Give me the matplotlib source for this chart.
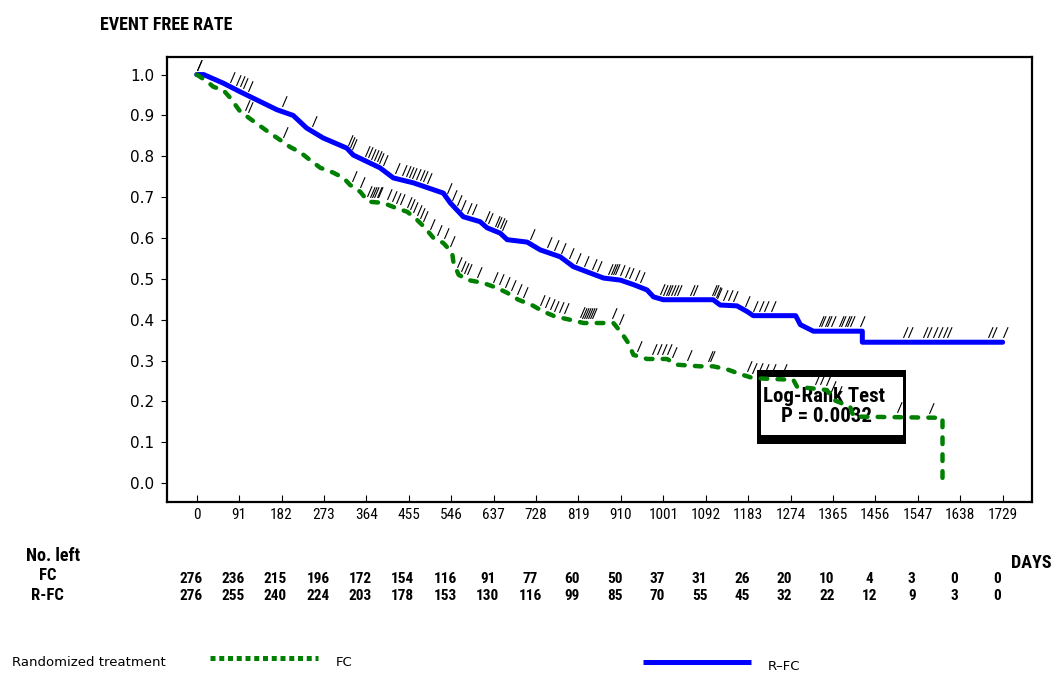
import numpy as np
import matplotlib
matplotlib.use("Agg")
import matplotlib.pyplot as plt
from matplotlib.lines import Line2D
from matplotlib.patches import Rectangle
import matplotlib.transforms as mtransforms

# ---------------------------------------------------------------- data
# Kaplan-Meier curves as traced vertices: time in days, event-free rate
fc_times = [0, 20, 36, 57, 72, 93, 118, 157, 179, 200, 222, 243, 265, 293,
            315, 329, 351, 368, 400, 422, 452, 473, 490, 508, 529, 548, 551,
            562, 583, 615, 644, 666, 690, 719, 744, 769, 801, 830, 894, 912,
            926, 937, 966, 1009, 1030, 1080, 1108, 1137, 1166, 1194, 1280,
            1288, 1352, 1366, 1402, 1409, 1600, 1600]
fc_surv = [1.0, 0.985, 0.97, 0.962, 0.943, 0.91, 0.889, 0.857, 0.84, 0.823,
           0.81, 0.791, 0.772, 0.76, 0.747, 0.73, 0.713, 0.689, 0.686, 0.676,
           0.664, 0.644, 0.625, 0.6, 0.588, 0.564, 0.539, 0.51, 0.497, 0.49,
           0.478, 0.466, 0.449, 0.436, 0.42, 0.408, 0.4, 0.392, 0.392, 0.367,
           0.343, 0.314, 0.304, 0.304, 0.29, 0.286, 0.286, 0.279, 0.267,
           0.257, 0.253, 0.236, 0.228, 0.204, 0.187, 0.163, 0.16, 0.0]

rfc_times = [0, 15, 57, 93, 172, 207, 236, 271, 322, 336, 393, 422, 465, 529,
             544, 572, 608, 623, 651, 666, 709, 737, 780, 808, 838, 873, 909,
             937, 966, 980, 1001, 1108, 1123, 1159, 1181, 1194, 1285, 1295,
             1323, 1428, 1428, 1729]
rfc_surv = [1.0, 1.0, 0.979, 0.958, 0.914, 0.9, 0.869, 0.845, 0.82, 0.803,
            0.772, 0.747, 0.735, 0.71, 0.686, 0.652, 0.64, 0.625, 0.612,
            0.596, 0.59, 0.571, 0.554, 0.53, 0.517, 0.502, 0.497, 0.486,
            0.473, 0.456, 0.449, 0.449, 0.436, 0.434, 0.42, 0.41, 0.41, 0.388,
            0.372, 0.372, 0.345, 0.345]

# censoring times
fc_censored = [0, 104, 110, 185, 333, 351, 366, 371, 376, 381, 386, 390, 408,
               418, 427, 436, 451, 458, 465, 472, 479, 486, 501, 515, 530, 544,
               559, 566, 573, 580, 601, 636, 649, 662, 675, 688, 701, 737, 747,
               757, 767, 777, 787, 823, 827, 831, 835, 839, 844, 848, 891, 905,
               945, 977, 988, 998, 1009, 1020, 1052, 1097, 1102, 1181, 1192,
               1205, 1218, 1231, 1256, 1327, 1338, 1349, 1360, 1374, 1503, 1570]
rfc_censored = [0, 72, 85, 92, 100, 110, 182, 247, 325, 329, 333, 362, 368,
                374, 380, 386, 392, 400, 426, 441, 448, 455, 462, 470, 478, 486,
                495, 537, 548, 558, 568, 580, 591, 619, 625, 640, 645, 650, 655,
                715, 751, 766, 782, 798, 814, 830, 848, 859, 883, 888, 893, 898,
                908, 918, 928, 940, 951, 994, 1000, 1006, 1012, 1018, 1024,
                1031, 1058, 1065, 1106, 1110, 1114, 1117, 1130, 1140, 1151, 1177,
                1194, 1206, 1218, 1231, 1334, 1340, 1347, 1353, 1360, 1377, 1383,
                1390, 1396, 1402, 1423, 1516, 1527, 1559, 1567, 1580, 1590, 1600,
                1610, 1698, 1706, 1729]

# number at risk
day_ticks = [0, 91, 182, 273, 364, 455, 546, 637, 728, 819, 910, 1001, 1092,
             1183, 1274, 1365, 1456, 1547, 1638, 1729]
fc_at_risk = [276, 236, 215, 196, 172, 154, 116, 91, 77, 60, 50, 37, 31, 26,
              20, 10, 4, 3, 0, 0]
rfc_at_risk = [276, 255, 240, 224, 203, 178, 153, 130, 116, 99, 85, 70, 55,
               45, 32, 22, 12, 9, 3, 0]

rate_ticks = [0.0, 0.1, 0.2, 0.3, 0.4, 0.5, 0.6, 0.7, 0.8, 0.9, 1.0]
p_value = "0.0032"

# ---------------------------------------------------------------- styles
GREEN = "#008000"
BLUE = "#0000FF"
CONDENSED = ["Roboto Condensed", "Liberation Sans Narrow", "DejaVu Sans"]
heavy = dict(fontfamily=CONDENSED, fontweight="heavy", fontstretch="condensed")

W, H = 1051, 673
fig = plt.figure(figsize=(W / 100, H / 100), dpi=100)
ax = fig.add_axes([167 / W, 1 - 502 / H, 865 / W, 445 / H])
ax.set_xlim(-63.7, 1792)
ax.set_ylim(-0.046, 1.043)

for sp in ax.spines.values():
    sp.set_linewidth(1.6)
    sp.set_color("black")

ax.set_xticks(day_ticks)
ax.set_xticklabels([str(d) for d in day_ticks], fontfamily=CONDENSED,
                   fontstretch="condensed", fontsize=11)
ax.tick_params(axis="x", direction="in", length=5, width=0.8, pad=4)
ax.set_yticks(rate_ticks)
ax.set_yticklabels([f"{v:.1f}" for v in rate_ticks], fontfamily="DejaVu Sans",
                   fontsize=11)
ax.tick_params(axis="y", direction="out", length=4, width=0.8, pad=5)

# curves
ax.plot(rfc_times, rfc_surv, color=BLUE, lw=3.6, solid_capstyle="round",
        solid_joinstyle="round", zorder=4)
ax.plot(fc_times, fc_surv, color=GREEN, lw=3.2, linestyle=(0, (1.5, 2.3)),
        dash_capstyle="round", zorder=4)

# censoring marks: a short slash sitting above the curve
slash = [(0.0, 0.3), (0.3, 1.0)]
for times, surv, cens in ((fc_times, fc_surv, fc_censored),
                          (rfc_times, rfc_surv, rfc_censored)):
    cens = np.asarray(cens, dtype=float)
    ax.plot(cens, np.interp(cens, times, surv), linestyle="none",
            marker=slash, markersize=22, markeredgewidth=0.8,
            markeredgecolor="black", markerfacecolor="none", clip_on=False,
            zorder=5)

# log-rank annotation box
bx0, by0, bx1, by1 = 757, 370, 906, 444
ax_box = ax.get_position()


def fig_to_ax(px, py):
    return ((px / W - ax_box.x0) / ax_box.width,
            ((1 - py / H) - ax_box.y0) / ax_box.height)


x0, y0 = fig_to_ax(bx0, by1)
x1, y1 = fig_to_ax(bx1, by0)
ax.add_patch(Rectangle((x0, y0), x1 - x0, y1 - y0, transform=ax.transAxes,
                       facecolor="black", edgecolor="none", zorder=2))
ix0, iy0 = fig_to_ax(bx0 + 4, by1 - 9)
ix1, iy1 = fig_to_ax(bx1 - 3, by0 + 7)
ax.add_patch(Rectangle((ix0, iy0), ix1 - ix0, iy1 - iy0, transform=ax.transAxes,
                       facecolor="white", edgecolor="none", zorder=2.5))
tx, ty = fig_to_ax(824, 396)
ax.text(tx, ty, "Log-Rank Test", transform=ax.transAxes, ha="center",
        va="center", fontsize=15, zorder=3, **heavy)
tx, ty = fig_to_ax(826, 417)
ax.text(tx, ty, f"P = {p_value}", transform=ax.transAxes, ha="center",
        va="center", fontsize=15, zorder=3, **heavy)

# titles
fig.text(100 / W, 1 - 25 / H, "EVENT FREE RATE", ha="left", va="center",
         fontsize=13, **heavy)
fig.text(1051 / W, 1 - 563 / H, "DAYS", ha="right", va="center",
         fontsize=13, **heavy)

# number-at-risk table
row_tf = mtransforms.blended_transform_factory(ax.transData, fig.transFigure)
row_tf = row_tf + mtransforms.ScaledTranslation(-6 / 100, 0, fig.dpi_scale_trans)
for vals, ypx in ((fc_at_risk, 579), (rfc_at_risk, 596)):
    for d, n in zip(day_ticks, vals):
        ax.text(d, 1 - ypx / H, str(n), transform=row_tf, ha="center",
                va="center", fontsize=11, clip_on=False, **heavy)
fig.text(26 / W, 1 - 556 / H, "No. left", ha="left", va="center",
         fontsize=13, **heavy)
fig.text(39 / W, 1 - 576 / H, "FC", ha="left", va="center",
         fontsize=12, **heavy)
fig.text(31 / W, 1 - 596 / H, "R-FC", ha="left", va="center",
         fontsize=12, **heavy)

# legend
fig.text(12 / W, 1 - 663 / H, "Randomized treatment", ha="left", va="center",
         fontfamily="DejaVu Sans", fontsize=9.5)
fig.add_artist(Line2D([210 / W, 318 / W], [1 - 658 / H, 1 - 658 / H],
                      color=GREEN, lw=3.6, linestyle=(0, (1.0, 0.75)),
                      dash_capstyle="butt"))
fig.text(336 / W, 1 - 663 / H, "FC", ha="left", va="center",
         fontfamily="DejaVu Sans", fontsize=9.5)
fig.add_artist(Line2D([643 / W, 751 / W], [1 - 662 / H, 1 - 662 / H],
                      color=BLUE, lw=3.6, solid_capstyle="butt"))
fig.text(768 / W, 1 - 667 / H, "R\u2013FC", ha="left", va="center",
         fontfamily="DejaVu Sans", fontsize=9.5)

fig.savefig("out.png", dpi=100)
